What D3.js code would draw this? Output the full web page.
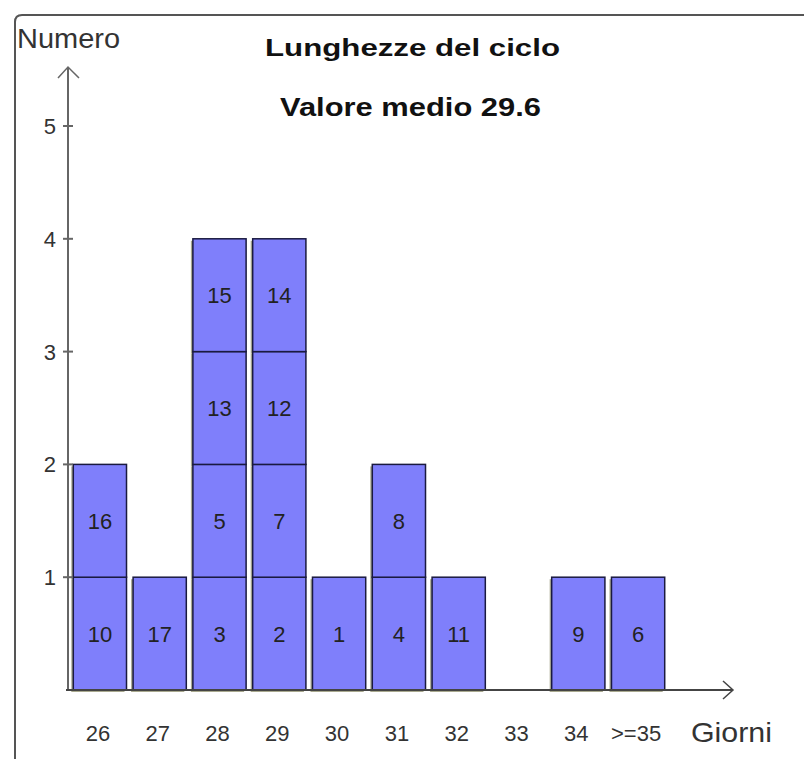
<!DOCTYPE html>
<html lang="it">
<head>
<meta charset="UTF-8">
<title>Lunghezze del ciclo</title>
<script src="https://d3js.org/d3.v7.min.js"></script>
<style>
  body { margin: 0; background: #fff; }
  text { font-family: "Liberation Sans", Arial, sans-serif; }
</style>
</head>
<body>
<script>
// giorni del ciclo e numeri dei cicli impilati (dal basso verso l'alto)
var days = ["26", "27", "28", "29", "30", "31", "32", "33", "34", ">=35"];
var cycles = [
  [10, 16],
  [17],
  [3, 5, 13, 15],
  [2, 7, 12, 14],
  [1],
  [4, 8],
  [11],
  [],
  [9],
  [6]
];
var yTicks = [1, 2, 3, 4, 5];

var width = 804, height = 759;
var baseY = 690;

var svg = d3.select("body").append("svg")
  .attr("width", width).attr("height", height);

// cornice
svg.append("path")
  .attr("d", "M15,759 L15,22 Q15,15 22,15 L804,15")
  .attr("fill", "none")
  .attr("stroke", "#555")
  .attr("stroke-width", 2);

var x = d3.scaleBand()
  .domain(days)
  .range([70, 668])
  .paddingInner(0.11)
  .paddingOuter(0.055);

var y = d3.scaleLinear()
  .domain([0, 5])
  .range([baseY, 126]);

// scatole
var boxes = [];
days.forEach(function(d, i) {
  cycles[i].forEach(function(c, j) {
    boxes.push({ day: d, level: j, label: c });
  });
});

var g = svg.append("g");
// ombra grigia a sinistra e in basso
g.selectAll("rect.shadow")
  .data(boxes)
  .enter()
  .append("rect")
  .attr("class", "shadow")
  .attr("x", function(d) { return x(d.day) - 2; })
  .attr("y", function(d) { return y(d.level + 1) + 2; })
  .attr("width", x.bandwidth())
  .attr("height", function(d) { return y(d.level) - y(d.level + 1); })
  .attr("fill", "#a9a98f");

g.selectAll("rect.box")
  .data(boxes)
  .enter()
  .append("rect")
  .attr("class", "box")
  .attr("x", function(d) { return x(d.day); })
  .attr("y", function(d) { return y(d.level + 1); })
  .attr("width", x.bandwidth())
  .attr("height", function(d) { return y(d.level) - y(d.level + 1); })
  .attr("fill", "#7f7ffb")
  .attr("stroke", "#1a1a40")
  .attr("stroke-width", 1.5);

g.selectAll("text")
  .data(boxes)
  .enter()
  .append("text")
  .attr("x", function(d) { return x(d.day) + x.bandwidth() / 2; })
  .attr("y", function(d) { return (y(d.level) + y(d.level + 1)) / 2 + 8; })
  .attr("text-anchor", "middle")
  .attr("font-size", 22)
  .attr("fill", "#222")
  .text(function(d) { return d.label; });

// assi
var axisColor = "#666";
svg.append("line")
  .attr("x1", 68).attr("y1", baseY)
  .attr("x2", 68).attr("y2", 68)
  .attr("stroke", axisColor).attr("stroke-width", 2);
svg.append("path")
  .attr("d", "M58,78 L68,67 L79,78")
  .attr("fill", "none").attr("stroke", axisColor).attr("stroke-width", 1.5);

svg.append("line")
  .attr("x1", 66).attr("y1", baseY)
  .attr("x2", 732).attr("y2", baseY)
  .attr("stroke", "#444").attr("stroke-width", 2);
svg.append("path")
  .attr("d", "M723,681 L733,690 L723,699")
  .attr("fill", "none").attr("stroke", "#444").attr("stroke-width", 1.5);

// tacche e etichette asse y
var yt = svg.append("g");
yt.selectAll("line")
  .data(yTicks)
  .enter()
  .append("line")
  .attr("x1", 63).attr("x2", 73)
  .attr("y1", function(d) { return y(d); })
  .attr("y2", function(d) { return y(d); })
  .attr("stroke", axisColor).attr("stroke-width", 2);
yt.selectAll("text")
  .data(yTicks)
  .enter()
  .append("text")
  .attr("x", 56)
  .attr("y", function(d) { return y(d) + 8; })
  .attr("text-anchor", "end")
  .attr("font-size", 22)
  .attr("fill", "#333")
  .text(function(d) { return d; });

// etichette asse x
svg.append("g").selectAll("text")
  .data(days)
  .enter()
  .append("text")
  .attr("x", function(d) { return x(d) + x.bandwidth() / 2 - 2; })
  .attr("y", 741)
  .attr("text-anchor", "middle")
  .attr("font-size", 22)
  .attr("fill", "#333")
  .text(function(d) { return d; });

svg.append("text")
  .attr("x", 691).attr("y", 742)
  .attr("font-size", 28)
  .attr("textLength", 81)
  .attr("lengthAdjust", "spacingAndGlyphs")
  .attr("fill", "#333")
  .text("Giorni");

svg.append("text")
  .attr("x", 17).attr("y", 48)
  .attr("font-size", 28)
  .attr("textLength", 103)
  .attr("lengthAdjust", "spacingAndGlyphs")
  .attr("fill", "#333")
  .text("Numero");

// titoli
svg.append("text")
  .attr("x", 265).attr("y", 56)
  .attr("font-size", 24)
  .attr("font-weight", "bold")
  .attr("textLength", 295)
  .attr("lengthAdjust", "spacingAndGlyphs")
  .attr("fill", "#111")
  .text("Lunghezze del ciclo");
svg.append("text")
  .attr("x", 280).attr("y", 116)
  .attr("font-size", 25)
  .attr("font-weight", "bold")
  .attr("textLength", 261)
  .attr("lengthAdjust", "spacingAndGlyphs")
  .attr("fill", "#111")
  .text("Valore medio 29.6");
</script>
</body>
</html>
